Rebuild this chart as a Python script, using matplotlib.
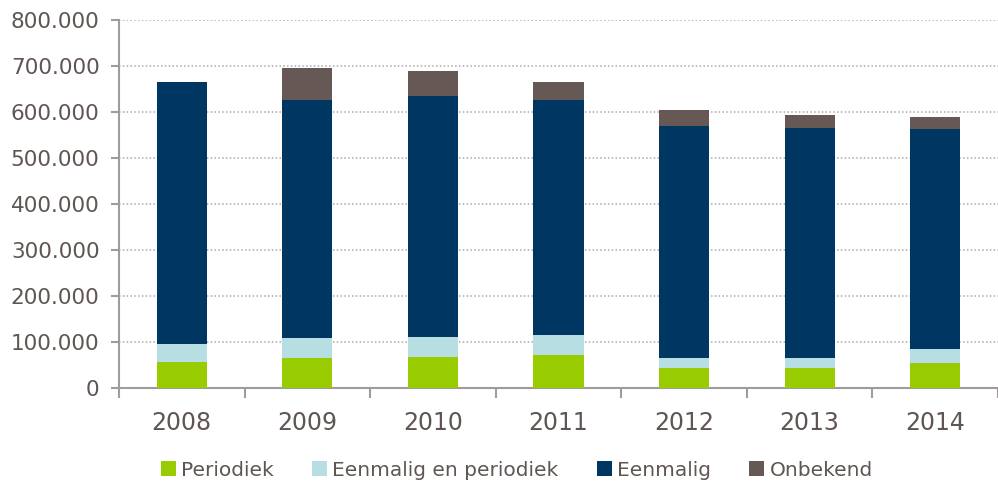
import matplotlib.pyplot as plt
import numpy as np

years = ['2008', '2009', '2010', '2011', '2012', '2013', '2014']
periodiek = [56000, 64000, 66000, 71000, 42000, 42000, 53000]
eenmalig_periodiek = [39000, 43000, 45000, 44000, 23000, 23000, 31000]
eenmalig = [570000, 518000, 524000, 510000, 505000, 499000, 479000]
onbekend = [0, 71000, 54000, 39000, 34000, 29000, 26000]

labels = ['Periodiek', 'Eenmalig en periodiek', 'Eenmalig', 'Onbekend']
colors = ['#99cc00', '#b7dee2', '#003662', '#665955']
text_color = '#5f5552'
axis_color = '#a09c9b'

fig = plt.figure(figsize=(9.98, 4.84), dpi=100)
ax = fig.add_axes([119 / 998, 1 - 387.5 / 484, (998 - 119) / 998, 367.5 / 484])

x = np.arange(len(years))
bottom = np.zeros(len(years))
for vals, lab, col in zip([periodiek, eenmalig_periodiek, eenmalig, onbekend], labels, colors):
    ax.bar(x, vals, 0.4, bottom=bottom, color=col, label=lab, zorder=3)
    bottom += np.array(vals)

ax.set_ylim(0, 800000)
ax.set_xlim(-0.5, 6.45)
ax.set_yticks(np.arange(0, 800001, 100000))
ax.set_yticklabels(['0' if v == 0 else f'{v // 1000}.000' for v in range(0, 800001, 100000)])
ax.yaxis.grid(True, linestyle=(0, (1, 1.5)), color='#a8a8a8', linewidth=1.1, zorder=0)

# major ticks between categories, labels on minor ticks
ax.set_xticks(np.arange(-0.5, 6.6, 1))
ax.set_xticklabels([])
ax.set_xticks(x, minor=True)
ax.set_xticklabels(years, minor=True)
ax.tick_params(axis='x', which='major', length=7, width=1.5, color=axis_color, direction='out')
ax.tick_params(axis='x', which='minor', length=0, pad=17, labelsize=17, labelcolor=text_color)
ax.tick_params(axis='y', length=6, width=1.5, color=axis_color, labelsize=15.5,
               labelcolor=text_color, pad=8)

for s in ['top', 'right']:
    ax.spines[s].set_visible(False)
for s in ['left', 'bottom']:
    ax.spines[s].set_color(axis_color)
    ax.spines[s].set_linewidth(1.5)

fig.legend(loc='center', bbox_to_anchor=(0.518, 1 - 470 / 484), ncol=4, frameon=False,
           fontsize=14.5, labelcolor=text_color, handlelength=0.75, handleheight=0.75,
           handletextpad=0.25, columnspacing=1.9)

fig.savefig('out.png', dpi=100)
